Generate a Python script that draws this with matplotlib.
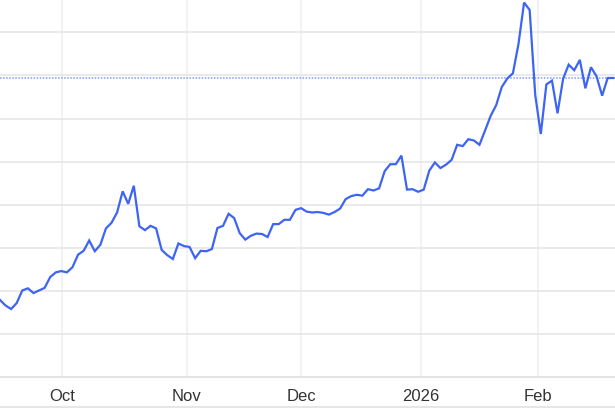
import numpy as np
import matplotlib
matplotlib.use('Agg')
import matplotlib.pyplot as plt
from matplotlib.lines import Line2D

# sessions are evenly spaced (gridline step = 10)
values = [
    17.9, 16.6, 15.8, 17.2, 20.1, 20.6, 19.5, 20.1, 20.7, 23.2,
    24.3, 24.6, 24.3, 25.5, 28.4, 29.3, 31.7, 29.2, 30.7, 34.5,
    35.8, 38.2, 43.1, 40.2, 44.4, 35.0, 34.1, 35.1, 34.5, 29.5,
    28.3, 27.4, 31.0, 30.4, 30.2, 27.6, 29.3, 29.2, 29.7, 34.6,
    35.1, 37.9, 36.9, 33.4, 31.9, 32.8, 33.3, 33.2, 32.5, 35.5,
    35.5, 36.5, 36.5, 38.8, 39.2, 38.4, 38.2, 38.3, 38.1, 37.7,
    38.3, 39.1, 41.3, 42.0, 42.3, 42.1, 43.6, 43.3, 43.8, 47.8,
    49.4, 49.4, 51.4, 43.5, 43.6, 43.0, 43.5, 47.9, 49.8, 48.5,
    49.3, 50.4, 53.9, 53.6, 55.2, 54.9, 53.9, 57.2, 60.6, 63.1,
    67.3, 69.3, 70.5, 77.3, 86.9, 85.2, 65.5, 56.4, 67.9, 68.8,
    61.2, 69.2, 72.5, 71.2, 73.6, 67.0, 71.9, 69.8, 65.3, 69.4,
    69.4,
]
last_price = 69.45

# month boundaries in session units
month_pos = [11.2, 33.5, 54.0, 75.5, 96.55]
month_labels = ['Oct', 'Nov', 'Dec', '2026', 'Feb']
y_grid = [10, 20, 30, 40, 50, 60, 70, 80]

line_color = '#3d64f2'

fig = plt.figure(figsize=(6.15, 4.10), dpi=100)
ax = fig.add_axes([0, 0.0778, 1, 0.9222])

x = np.arange(len(values))

for p in month_pos:
    ax.axvline(p, color='#edf0f5', lw=1.2, zorder=1)
for g in y_grid:
    ax.axhline(g, color='#e6e6e6', lw=1.2, zorder=1)

ax.axhline(last_price, color='#7f9df2', lw=1.1, linestyle=(0, (1, 1)), zorder=2)
ax.plot(x, values, color=line_color, lw=1.6, zorder=3, solid_joinstyle='miter')

ax.set_xlim(0, 110.31)
ax.set_ylim(0, 87.73)

ax.set_xticks(month_pos)
ax.set_xticklabels(month_labels, fontfamily='Liberation Sans', fontsize=12, color='#333333')
ax.tick_params(axis='x', length=0, pad=8)
ax.set_yticks([])

for s in ['top', 'left', 'right']:
    ax.spines[s].set_visible(False)
ax.spines['bottom'].set_color('#e0e0e0')
ax.spines['bottom'].set_linewidth(1.3)

fig.add_artist(Line2D([0, 1], [0.004, 0.004], color='#e2e2e2', lw=1.2))

fig.savefig('out.png', dpi=100)
